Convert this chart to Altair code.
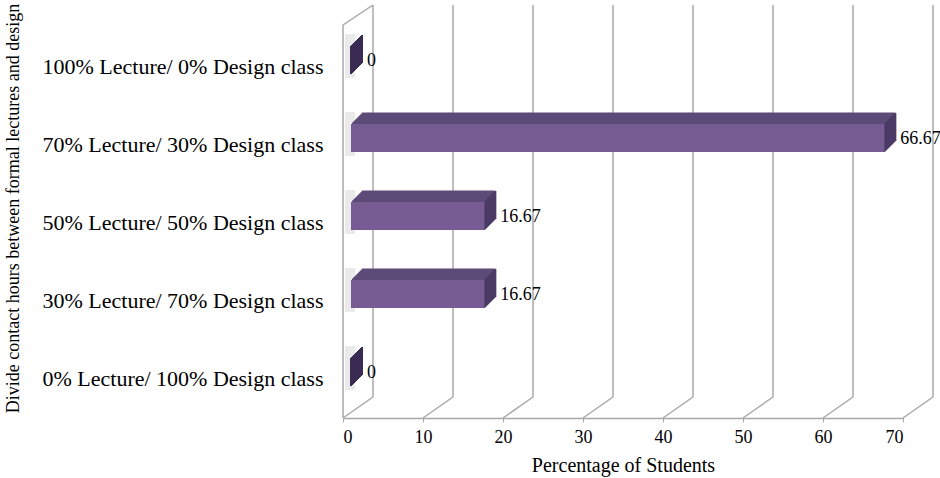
import altair as alt
import pandas as pd

# ---- data ----
categories = [
    "100% Lecture/ 0% Design class",
    "70% Lecture/ 30% Design class",
    "50% Lecture/ 50% Design class",
    "30% Lecture/ 70% Design class",
    "0% Lecture/ 100% Design class",
]
percentages = [0, 66.67, 16.67, 16.67, 0]
tick_values = [0, 10, 20, 30, 40, 50, 60, 70]

bars = pd.DataFrame({"category": categories, "value": percentages})
ticks = pd.DataFrame({"tick": tick_values})
wall = pd.DataFrame({"tick": [0]})

SERIF = "Liberation Serif"
GRID = "#a8a8a8"
FRONT = "#765c92"
TOP = "#5c4a78"
SIDE = "#4c3b66"
DEPTH_X = 30   # back wall offset (px)

xscale = alt.Scale(domain=[0, 70], nice=False, zero=True)
yscale = alt.Scale(domain=categories, paddingInner=0, paddingOuter=0)

X_AXIS = alt.Axis(
    values=tick_values,
    offset=4,
    grid=False,
    domainColor=GRID,
    domainWidth=1.5,
    tickColor=GRID,
    tickSize=4,
    labelFont=SERIF,
    labelFontSize=18,
    labelColor="black",
    labelPadding=6,
    title="Percentage of Students",
    titleFont=SERIF,
    titleFontSize=20,
    titleFontWeight="normal",
    titleColor="black",
    titlePadding=9,
)
Y_AXIS = alt.Axis(
    domain=False,
    ticks=False,
    labelFont=SERIF,
    labelFontSize=22,
    labelColor="black",
    labelPadding=20,
    labelLimit=0,
    labelOffset=4,
    title="Divide contact hours between formal lectures and design",
    titleFont=SERIF,
    titleFontSize=18,
    titleFontWeight="normal",
    titleColor="black",
    titleX=-321,
    titleY=184,
    titleBaseline="bottom",
    titleAlign="center",
    titleAngle=270,
)


def X(field):
    return alt.X(field, scale=xscale, axis=X_AXIS)


def Y():
    return alt.Y("category:N", scale=yscale, sort=categories, axis=Y_AXIS)


# back-wall gridlines
back_grid = alt.Chart(ticks).mark_rule(color=GRID, strokeWidth=1.5, xOffset=DEPTH_X).encode(
    x=X("tick:Q"),
    y=alt.value(-19),
    y2=alt.value(373),
)
# floor slant lines
floor = alt.Chart(ticks).mark_rule(color=GRID, strokeWidth=1.5, x2Offset=DEPTH_X).encode(
    x=X("tick:Q"),
    x2="tick:Q",
    y=alt.value(394),
    y2=alt.value(373),
)
# left wall front edge and top slant
wall_edge = alt.Chart(wall).mark_rule(color=GRID, strokeWidth=1.5).encode(
    x=X("tick:Q"),
    y=alt.value(1),
    y2=alt.value(394),
)
wall_top = alt.Chart(wall).mark_rule(color=GRID, strokeWidth=1.5, x2Offset=DEPTH_X).encode(
    x=X("tick:Q"),
    x2="tick:Q",
    y=alt.value(1),
    y2=alt.value(-19),
)

layers = [back_grid, floor, wall_edge, wall_top]

FO = 8      # front face x offset
BAR_H = 28
CY = -3     # front face vertical offset from band centre
D = 11      # bar depth

# soft reflections on the side wall
layers.append(
    alt.Chart(bars).mark_bar(
        size=44, color="#d9d9d9", opacity=0.55, xOffset=2, x2Offset=12, yOffset=CY - 4
    ).encode(
        x=X("zero:Q"),
        x2="zero:Q",
        y=Y(),
    ).transform_calculate(zero="0")
)

# top face stripes
for k in range(1, D + 1):
    layers.append(
        alt.Chart(bars).mark_bar(
            size=2, color=TOP, xOffset=FO + k, x2Offset=FO + k, yOffset=CY - BAR_H / 2 - k + 0.5
        ).encode(
            x=X("zero:Q"),
            x2="value:Q",
            y=Y(),
        ).transform_calculate(zero="0")
    )
# right face stripes
for k in range(0, D + 1):
    layers.append(
        alt.Chart(bars).mark_bar(
            size=BAR_H, xOffset=FO + k - 1, x2Offset=FO + k + 1, yOffset=CY - k
        ).encode(
            x=X("value:Q"),
            x2="value:Q",
            y=Y(),
            color=alt.condition("datum.value == 0", alt.value("#3a2b52"), alt.value(SIDE)),
        )
    )

front = alt.Chart(bars).mark_bar(
    size=BAR_H, color=FRONT, xOffset=FO, x2Offset=FO, yOffset=CY
).encode(
    x=X("zero:Q"),
    x2="value:Q",
    y=Y(),
).transform_calculate(zero="0")
layers.append(front)

labels = alt.Chart(bars).mark_text(
    align="left", baseline="middle", dx=24, dy=-2, font=SERIF, fontSize=18, color="black"
).encode(
    x=X("value:Q"),
    y=Y(),
    text=alt.Text("value:Q"),
)
layers.append(labels)

chart = alt.layer(*layers).properties(
    width=560,
    height=390,
    autosize=alt.AutoSizeParams(type="none"),
    padding={"left": 343, "top": 24, "right": 37, "bottom": 64},
    background="white",
).configure_view(stroke=None)

chart.save("out.html", embed_options={"renderer": "svg", "actions": False})
